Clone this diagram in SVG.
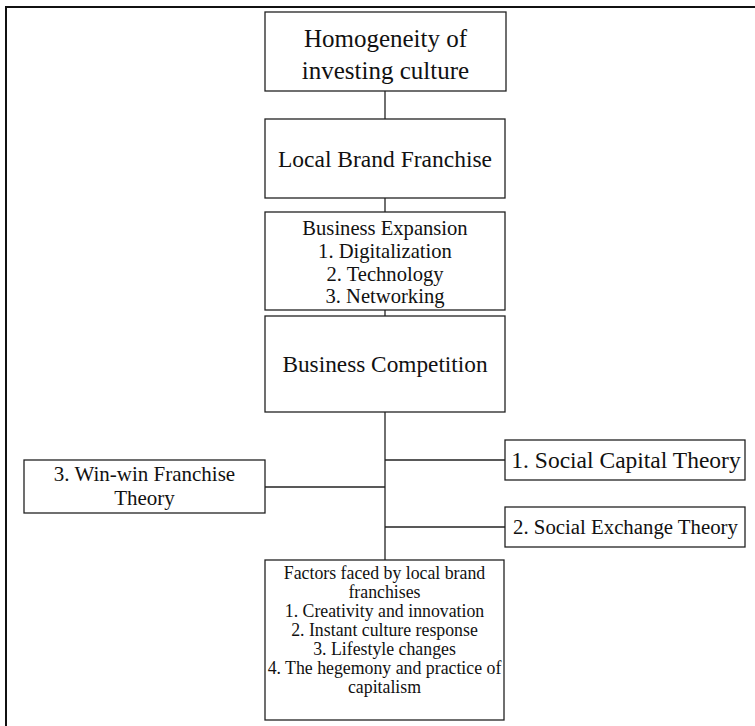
<svg xmlns="http://www.w3.org/2000/svg" width="755" height="726" viewBox="0 0 755 726">
<style>
.box{fill:#fff;stroke:#222;stroke-width:1.3}
.t{font-family:"Liberation Serif","Times New Roman",serif;fill:#111;text-anchor:middle}
.c{stroke:#222;stroke-width:1.3;fill:none}
</style>
<rect x="0" y="0" width="755" height="726" fill="#fff"/>
<rect x="6" y="7" width="770" height="740" fill="none" stroke="#111" stroke-width="2"/>
<g id="connectors">
<line class="c" x1="385" y1="91" x2="385" y2="119"/>
<line class="c" x1="385" y1="198" x2="385" y2="212"/>
<line class="c" x1="385" y1="310" x2="385" y2="316"/>
<line class="c" x1="385" y1="412" x2="385" y2="560"/>
<line class="c" x1="385" y1="460" x2="505" y2="460"/>
<line class="c" x1="265" y1="487" x2="385" y2="487"/>
<line class="c" x1="385" y1="527" x2="505" y2="527"/>
</g>
<g id="homogeneity">
<rect class="box" x="265" y="12" width="241" height="79"/>
<text class="t" x="385.5" y="47" font-size="25">Homogeneity of</text>
<text class="t" x="385.5" y="79" font-size="25">investing culture</text>
</g>
<g id="local-brand">
<rect class="box" x="265" y="119" width="240" height="79"/>
<text class="t" x="385" y="167" font-size="23.5">Local Brand Franchise</text>
</g>
<g id="expansion">
<rect class="box" x="265" y="212" width="240" height="98"/>
<text class="t" x="385" y="235" font-size="20.6">Business Expansion</text>
<text class="t" x="385" y="258" font-size="20.6">1. Digitalization</text>
<text class="t" x="385" y="281" font-size="20.6">2. Technology</text>
<text class="t" x="385" y="303" font-size="20.6">3. Networking</text>
</g>
<g id="competition">
<rect class="box" x="265" y="316" width="240" height="96"/>
<text class="t" x="385" y="372" font-size="23.3">Business Competition</text>
</g>
<g id="social-capital">
<rect class="box" x="505" y="440" width="240" height="40"/>
<text class="t" x="626" y="468" font-size="23.5">1. Social Capital Theory</text>
</g>
<g id="win-win">
<rect class="box" x="24" y="460" width="241" height="53"/>
<text class="t" x="144.5" y="481" font-size="21">3. Win-win Franchise</text>
<text class="t" x="144.5" y="505" font-size="21">Theory</text>
</g>
<g id="social-exchange">
<rect class="box" x="505" y="507" width="240" height="40"/>
<text class="t" x="625.5" y="534" font-size="20.8">2. Social Exchange Theory</text>
</g>
<g id="factors">
<rect class="box" x="265" y="560" width="239" height="160"/>
<text class="t" x="384.5" y="579" font-size="17.8">Factors faced by local brand</text>
<text class="t" x="384.5" y="598" font-size="17.8">franchises</text>
<text class="t" x="384.5" y="617" font-size="17.8">1. Creativity and innovation</text>
<text class="t" x="384.5" y="636" font-size="17.8">2. Instant culture response</text>
<text class="t" x="384.5" y="655" font-size="17.8">3. Lifestyle changes</text>
<text class="t" x="384.5" y="674" font-size="17.8">4. The hegemony and practice of</text>
<text class="t" x="384.5" y="693" font-size="17.8">capitalism</text>
</g>
</svg>
